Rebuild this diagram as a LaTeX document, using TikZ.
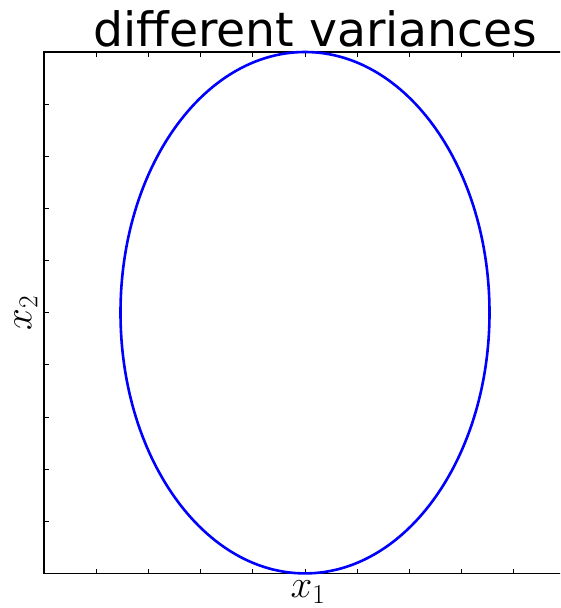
\RequirePackage{fix-cm}
\documentclass[tikz,border=0pt]{standalone}
\usepackage{fontspec}
\newfontfamily\titlefont{DejaVu Sans}
\usepackage{tikz}
\usetikzlibrary{positioning}
\definecolor{curveblue}{RGB}{0,0,255}
\tikzset{
  frameline/.style={line width=1.4pt, black},
  tickline/.style={line width=0.9pt, black},
  curveline/.style={line width=2.6pt, curveblue},
  axlabel/.style={font=\fontsize{39}{42}\selectfont, inner sep=0pt},
  titlelabel/.style={font=\titlefont\fontsize{47.3}{52}\selectfont, inner sep=0pt, anchor=base},
}

\begin{document}
\begin{tikzpicture}[x=1pt, y=-1pt]
  \clip (0,0) rectangle (560,608);

  % axes frame (right side falls outside the page)
  \draw[frameline] (566,52) -- (44,52) -- (44,573.5) -- (566,573.5);

  % ticks, pointing inward
  \foreach \k in {1,...,9} {
    \draw[tickline] (44+52.2*\k,573.5) -- ++(0,-5);
    \draw[tickline] (44+52.2*\k,52) -- ++(0,5);
    \draw[tickline] (44,52+52.15*\k) -- ++(5,0);
  }

  % the ellipse
  \draw[curveline] (305,312.7) ellipse [x radius=184.5, y radius=260.7];

  % labels
  \node[titlelabel] (title) at (315.5,46) {different variances};
  \node[axlabel] (xlabel) at (308,592) {$x_1$};
  \node[axlabel, rotate=90] (ylabel) at (26,313) {$x_2$};
\end{tikzpicture}
\end{document}
